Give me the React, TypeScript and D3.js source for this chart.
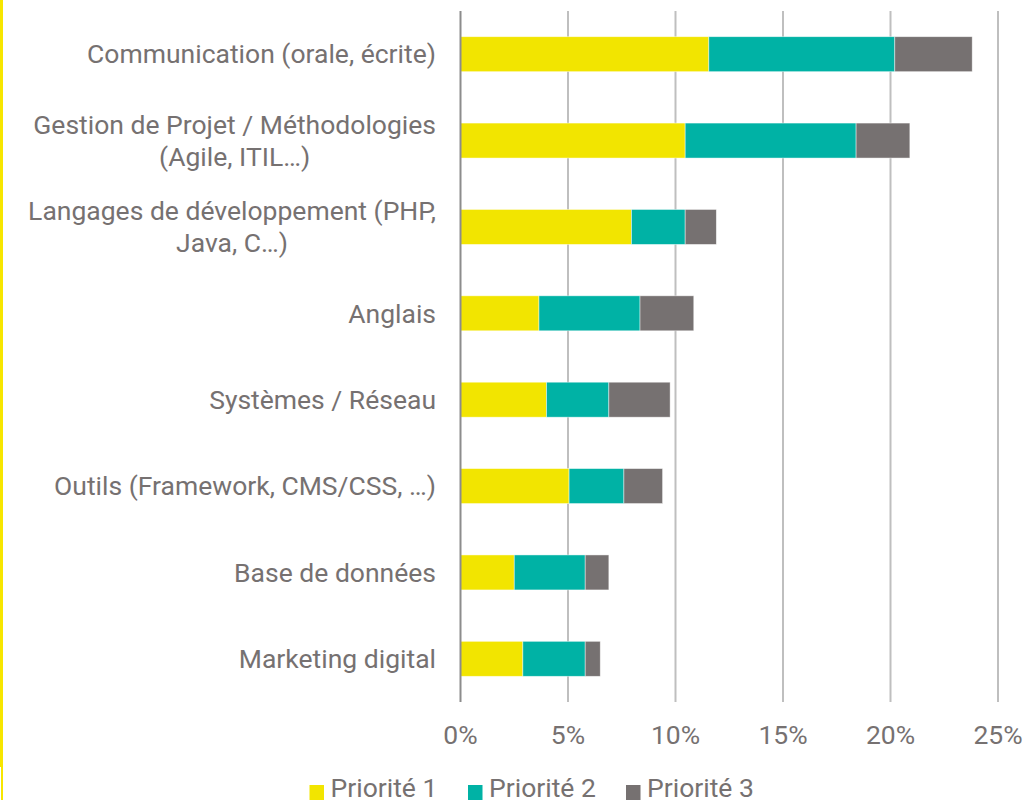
import { useEffect, useRef } from 'react';
import * as d3 from 'd3';

// categories, top to bottom
const categories = [
  'Communication (orale, écrite)',
  'Gestion de Projet / Méthodologies|(Agile, ITIL…)',
  'Langages de développement (PHP,|Java, C…)',
  'Anglais',
  'Systèmes / Réseau',
  'Outils (Framework, CMS/CSS, …)',
  'Base de données',
  'Marketing digital',
];

const seriesNames = ['Priorité 1', 'Priorité 2', 'Priorité 3'];
const priorite1 = [11.55, 10.45, 7.95, 3.65, 4.0, 5.05, 2.5, 2.9];
const priorite2 = [8.65, 7.95, 2.5, 4.7, 2.9, 2.55, 3.3, 2.9];
const priorite3 = [3.6, 2.5, 1.45, 2.5, 2.85, 1.8, 1.1, 0.7];
const xTicks = [0, 5, 10, 15, 20, 25];

const colors = ['#F2E500', '#00B2A5', '#767171'];
const textColor = '#767171';

function App() {
  const ref = useRef<SVGSVGElement>(null);

  useEffect(() => {
    const svg = d3.select(ref.current);
    svg.selectAll('*').remove();
    drawChart(svg);
  }, []);

  return (
    <svg
      ref={ref}
      width={1025}
      height={800}
      style={{ position: 'absolute', left: 0, top: 0, background: '#fff' }}
    />
  );
}

function drawChart(svg: any) {
  const font = 'Roboto, "Noto Sans", sans-serif';
  const fontSize = 26.5;
  const plot = { left: 460.5, right: 998, top: 11, bottom: 702 };

  const rows = categories.map((c, i) => ({
    label: c,
    values: [priorite1[i], priorite2[i], priorite3[i]],
  }));

  const x = d3.scaleLinear().domain([0, 25]).range([plot.left, plot.right]);
  const y = d3.scaleBand<number>()
    .domain(d3.range(rows.length))
    .range([plot.top, plot.bottom])
    .padding(0);
  const barH = y.bandwidth() * 0.405;

  // yellow frame line on the left edge
  svg.append('rect').attr('x', 0).attr('y', 0).attr('width', 3).attr('height', 767).attr('fill', '#F7E600');
  svg.append('rect').attr('x', 1).attr('y', 767).attr('width', 2).attr('height', 33).attr('fill', '#F7E600');

  // vertical gridlines
  svg.append('g')
    .selectAll('line')
    .data(xTicks.slice(1))
    .join('line')
      .attr('x1', (d: number) => x(d))
      .attr('x2', (d: number) => x(d))
      .attr('y1', plot.top)
      .attr('y2', plot.bottom)
      .attr('stroke', '#BFBFBF')
      .attr('stroke-width', 2);

  // stacked bars
  const stack = d3.stack<any>()
    .keys([0, 1, 2] as any)
    .value((d: any, k: any) => d.values[k]);
  const layers = stack(rows as any);

  layers.forEach((layer: any, k: number) => {
    svg.append('g')
      .selectAll('rect')
      .data(layer)
      .join('rect')
        .attr('x', (d: any) => x(d[0]))
        .attr('y', (_: any, i: number) => (y(i) as number) + (y.bandwidth() - barH) / 2)
        .attr('width', (d: any) => x(d[1]) - x(d[0]))
        .attr('height', barH)
        .attr('fill', colors[k])
        .attr('stroke', '#fff')
        .attr('stroke-opacity', 0.6)
        .attr('stroke-width', 0.75);
  });

  // category axis line
  svg.append('line')
    .attr('x1', plot.left).attr('x2', plot.left)
    .attr('y1', plot.top).attr('y2', plot.bottom)
    .attr('stroke', '#8C8C8C')
    .attr('stroke-width', 2);

  // category labels (multi-line, lines centred on each other, block right-aligned)
  const lineH = 32;
  rows.forEach((r, i) => {
    const lines = r.label.split('|');
    const cy = (y(i) as number) + y.bandwidth() / 2;
    const t = svg.append('text')
      .attr('font-family', font)
      .attr('font-size', fontSize)
      .attr('fill', textColor)
      .attr('text-anchor', 'middle');
    lines.forEach((ln, j) => {
      t.append('tspan')
        .attr('y', cy + (j - (lines.length - 1) / 2) * lineH)
        .attr('dy', '0.35em')
        .text(ln);
    });
    let maxW = 0;
    t.selectAll('tspan').each(function (this: any) {
      maxW = Math.max(maxW, this.getComputedTextLength());
    });
    t.selectAll('tspan').attr('x', 436 - maxW / 2);
  });

  // x tick labels
  svg.append('g')
    .selectAll('text')
    .data(xTicks)
    .join('text')
      .attr('x', (d: number) => x(d))
      .attr('y', 744)
      .attr('text-anchor', 'middle')
      .attr('font-family', font)
      .attr('font-size', fontSize)
      .attr('fill', textColor)
      .text((d: number) => `${d}%`);

  // legend
  const legendX = [309.5, 468, 626];
  seriesNames.forEach((name, k) => {
    svg.append('rect')
      .attr('x', legendX[k])
      .attr('y', 785)
      .attr('width', 14.5)
      .attr('height', 15)
      .attr('fill', colors[k]);
    svg.append('text')
      .attr('x', legendX[k] + 21)
      .attr('y', 797)
      .attr('font-family', font)
      .attr('font-size', fontSize)
      .attr('fill', textColor)
      .text(name);
  });
}

export default App;
